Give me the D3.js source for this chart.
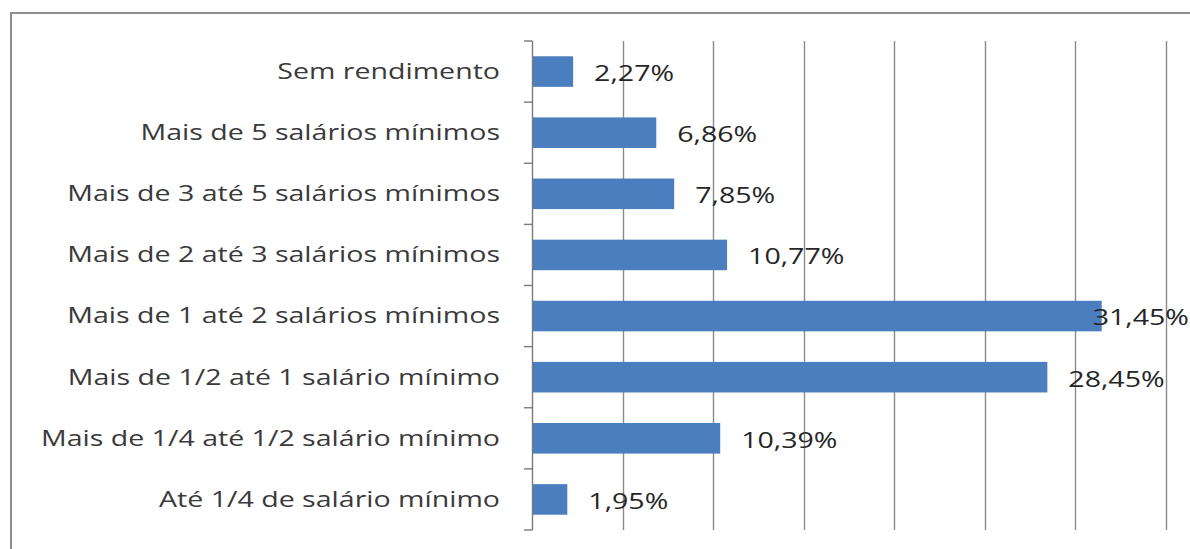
<!DOCTYPE html>
<html>
<head>
<meta charset="utf-8">
<script src="https://cdn.jsdelivr.net/npm/d3@7"></script>
<style>
  html, body { margin: 0; padding: 0; background: #fff; }
  svg { display: block; }
  text { font-family: "Open Sans", "DejaVu Sans", sans-serif; }
</style>
</head>
<body>
<svg id="chart" width="1190" height="549"></svg>
<script>
// Income brackets (top to bottom) and share of population in each, in %
const categories = [
  "Sem rendimento",
  "Mais de 5 salários  mínimos",
  "Mais de 3 até 5 salários mínimos",
  "Mais de 2 até 3 salários mínimos",
  "Mais de 1 até 2 salários mínimos",
  "Mais de 1/2 até 1 salário mínimo",
  "Mais de 1/4 até 1/2 salário mínimo",
  "Até 1/4 de salário mínimo"
];
const values = [2.27, 6.86, 7.85, 10.77, 31.45, 28.45, 10.39, 1.95];
const gridTicks = [5, 10, 15, 20, 25, 30, 35];

const W = 1190, H = 549;
const stretch = 1.36;          // wide lettering of the chart's typeface
const svg = d3.select("#chart");

// outer frame
svg.append("rect")
  .attr("x", 11).attr("y", 13)
  .attr("width", 1200).attr("height", 600)
  .attr("fill", "#fff")
  .attr("stroke", "#8f8f8f").attr("stroke-width", 2);

const x = d3.scaleLinear().domain([0, 35]).range([532, 1166]);
const y = d3.scaleBand().domain(categories).range([41, 530])
  .paddingInner(0.5).paddingOuter(0.25);

// vertical gridlines
svg.append("g").selectAll("line").data(gridTicks).join("line")
  .attr("x1", d => Math.round(x(d)) + 0.5).attr("x2", d => Math.round(x(d)) + 0.5)
  .attr("y1", y.range()[0]).attr("y2", y.range()[1])
  .attr("stroke", "#8a8a8a").attr("stroke-width", 1.4);

// bars
svg.append("g").selectAll("rect").data(values).join("rect")
  .attr("x", x(0))
  .attr("y", (d, i) => y(categories[i]))
  .attr("width", d => x(d) - x(0))
  .attr("height", y.bandwidth())
  .attr("fill", "#4a7ebe");

// category axis with ticks between categories
const axisG = svg.append("g").attr("transform", `translate(${x(0)},0)`);
axisG.append("line")
  .attr("x1", 0.5).attr("x2", 0.5)
  .attr("y1", y.range()[0]).attr("y2", y.range()[1])
  .attr("stroke", "#7a7a7a").attr("stroke-width", 1.4);
const bounds = d3.range(categories.length + 1).map(i => y.range()[0] + i * y.step());
axisG.selectAll("line.tick").data(bounds).join("line")
  .attr("class", "tick")
  .attr("x1", -8).attr("x2", 0.5)
  .attr("y1", d => d).attr("y2", d => d)
  .attr("stroke", "#7a7a7a").attr("stroke-width", 1.4);

// category labels
svg.append("g").selectAll("text").data(categories).join("text")
  .attr("transform", d => `translate(500,${y(d) + y.bandwidth() / 2}) scale(${stretch},1)`)
  .attr("dy", "0.35em")
  .attr("text-anchor", "end")
  .attr("font-size", 21)
  .attr("fill", "#3a3a3a")
  .text(d => d);

// value labels, kept inside the chart's right edge
const fmt = v => v.toFixed(2).replace(".", ",") + "%";
svg.append("g").selectAll("text").data(values).join("text")
  .attr("dy", "0.35em")
  .attr("font-size", 21)
  .attr("fill", "#262626")
  .text(d => fmt(d))
  .each(function (d, i) {
    const w = this.getComputedTextLength() * stretch;
    const pos = Math.min(x(d) + 21, W - 1 - w);
    const cy = y(categories[i]) + y.bandwidth() / 2 + 2;
    d3.select(this).attr("transform", `translate(${pos},${cy}) scale(${stretch},1)`);
  });
</script>
</body>
</html>
